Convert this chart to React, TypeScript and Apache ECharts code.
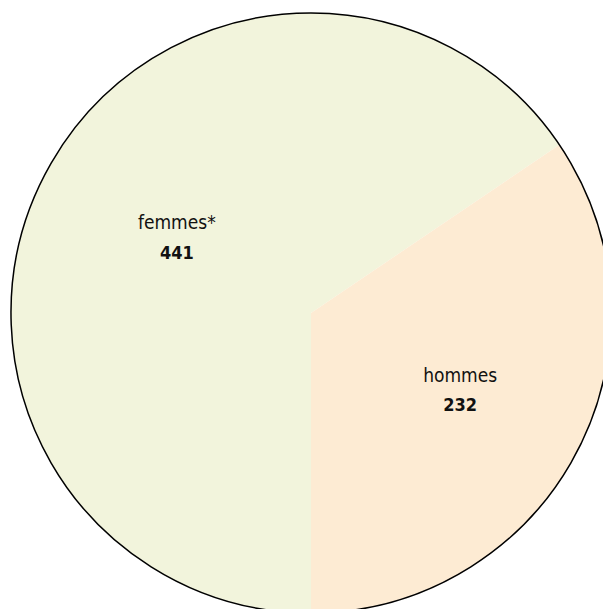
import React, { useEffect, useRef } from "react";
import * as echarts from "echarts";

const categories = ["femmes*", "hommes"];
const values = [441, 232];
const colors = ["#F2F4DC", "#FDEBD3"];

export default function App() {
  const ref = useRef<HTMLDivElement>(null);
  useEffect(() => {
    if (!ref.current) return;
    const chart = echarts.init(ref.current, null, { renderer: "svg" });
    const font = "'DejaVu Sans Condensed', 'Liberation Sans Narrow', sans-serif";
    const offsets = [
      [1, -4],
      [14, 5],
    ];
    chart.setOption({
      animation: false,
      backgroundColor: "#ffffff",
      series: [
        {
          type: "pie",
          center: [311, 313],
          radius: 300,
          startAngle: 270,
          clockwise: true,
          silent: true,
          label: {
            show: true,
            position: "inside",
            formatter: (p: any) => `{n|${p.name}}\n{v|${p.value}}`,
            rich: {
              n: { fontFamily: font, fontSize: 19, color: "#111", lineHeight: 30 },
              v: { fontFamily: font, fontSize: 18, fontWeight: "bold", color: "#111", lineHeight: 30 },
            },
          },
          labelLine: { show: false },
          itemStyle: { borderWidth: 0 },
          data: categories.map((c, i) => ({
            name: c,
            value: values[i],
            itemStyle: { color: colors[i] },
            label: { offset: offsets[i] },
          })),
        },
        {
          type: "pie",
          center: [311, 313],
          radius: 300,
          silent: true,
          label: { show: false },
          labelLine: { show: false },
          itemStyle: { color: "rgba(0,0,0,0)", borderColor: "#000", borderWidth: 1.5 },
          data: [{ name: "outline", value: values[0] + values[1] }],
          z: 3,
        },
      ],
    });
    return () => chart.dispose();
  }, []);
  return (
    <div
      ref={ref}
      style={{ position: "absolute", left: 0, top: 0, width: 603, height: 609 }}
    />
  );
}
